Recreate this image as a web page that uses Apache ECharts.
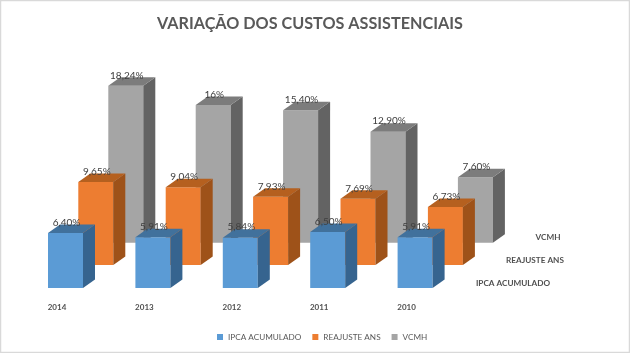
<!DOCTYPE html>
<html lang="en">
<head>
    <meta charset="UTF-8">
    <title>Variação dos custos assistenciais</title>
    <script src="https://cdn.jsdelivr.net/npm/echarts@6/dist/echarts.min.js"></script>
    <style>
        html, body { margin: 0; padding: 0; background: #fff; }
        #main { width: 630px; height: 353px; }
    </style>
</head>
<body>
    <div id="main"></div>
    <script>
        const years = ['2014', '2013', '2012', '2011', '2010']
        const ipca = [6.40, 5.91, 5.84, 6.50, 5.91]
        const reajuste = [9.65, 9.04, 7.93, 7.69, 6.73]
        const vcmh = [18.24, 16, 15.40, 12.90, 7.60]
        const ipcaLabels = ['6,40%', '5,91%', '5,84%', '6,50%', '5,91%']
        const reajusteLabels = ['9,65%', '9,04%', '7,93%', '7,69%', '6,73%']
        const vcmhLabels = ['18,24%', '16%', '15,40%', '12,90%', '7,60%']

        const FONT = 'Lato, "Open Sans", sans-serif'
        const barW = 35, depthX = 12, depthY = 8.5

        // each row sits further back in the fake 3d: shifted right and up
        function bar3d (labels, shiftX, shiftY, front, side, top) {
            return function (params, api) {
                const base = api.coord([api.value(0), 0])
                const head = api.coord([api.value(0), api.value(1)])
                const x = base[0] - barW / 2 + shiftX
                const y0 = base[1] - shiftY
                const y1 = head[1] - shiftY
                return {
                    type: 'group',
                    children: [
                        { type: 'rect', shape: { x: x, y: y1, width: barW, height: y0 - y1 }, style: { fill: front } },
                        { type: 'polygon', shape: { points: [[x + barW, y1], [x + barW + depthX, y1 - depthY], [x + barW + depthX, y0 - depthY], [x + barW, y0]] }, style: { fill: side } },
                        { type: 'polygon', shape: { points: [[x, y1], [x + depthX, y1 - depthY], [x + barW + depthX, y1 - depthY], [x + barW, y1]] }, style: { fill: top } },
                        { type: 'text', x: x + barW / 2 + 1, y: y1 - 10.5, style: { text: labels[params.dataIndex], font: '10px ' + FONT, fill: '#404040', align: 'center', verticalAlign: 'middle' } }
                    ]
                }
            }
        }

        function rowSeries (name, values, labels, shiftX, shiftY, front, side, top) {
            return {
                name: name,
                type: 'custom',
                data: values.map((v, i) => [i, v]),
                encode: { x: 0, y: 1 },
                itemStyle: { color: front },
                renderItem: bar3d(labels, shiftX, shiftY, front, side, top),
                silent: true
            }
        }

        const chart = echarts.init(document.getElementById('main'))
        chart.setOption({
            animation: false,
            backgroundColor: '#fff',
            title: {
                text: 'VARIAÇÃO DOS CUSTOS ASSISTENCIAIS',
                left: 152,
                top: 11,
                textStyle: { fontFamily: FONT, fontSize: 16.2, fontWeight: 'bold', color: '#595959' }
            },
            legend: {
                bottom: 7,
                left: 212,
                itemWidth: 6,
                itemHeight: 6,
                itemGap: 11,
                icon: 'rect',
                textStyle: { fontFamily: FONT, fontSize: 8.2, color: '#595959' },
                data: ['IPCA ACUMULADO', 'REAJUSTE ANS', 'VCMH']
            },
            grid: { left: 21.8, width: 437, top: 30, height: 258 },
            xAxis: {
                type: 'category',
                data: years,
                axisLine: { show: false },
                axisTick: { show: false },
                axisLabel: { fontFamily: FONT, fontSize: 8, fontWeight: 'bold', color: '#505050', margin: 15, padding: [0, 17, 0, 0] }
            },
            yAxis: { type: 'value', min: 0, max: 30, show: false },
            graphic: [
                { type: 'text', x: 548, y: 237, style: { text: 'VCMH', font: 'bold 8.2px ' + FONT, fill: '#505050', align: 'center', verticalAlign: 'middle' } },
                { type: 'text', x: 535, y: 260, style: { text: 'REAJUSTE ANS', font: 'bold 8.2px ' + FONT, fill: '#505050', align: 'center', verticalAlign: 'middle' } },
                { type: 'text', x: 513, y: 283, style: { text: 'IPCA ACUMULADO', font: 'bold 8.2px ' + FONT, fill: '#505050', align: 'center', verticalAlign: 'middle' } },
                { type: 'rect', shape: { x: 0.5, y: 0.5, width: 629, height: 352 }, style: { fill: 'none', stroke: '#d9d9d9', lineWidth: 1.5 } }
            ],
            // back rows first so the front row overlaps them
            series: [
                rowSeries('VCMH', vcmh, vcmhLabels, 60.3, 45.3, '#a5a5a5', '#636363', '#7c7c7c'),
                rowSeries('REAJUSTE ANS', reajuste, reajusteLabels, 30.3, 23, '#ed7d31', '#9e5219', '#b5601f'),
                rowSeries('IPCA ACUMULADO', ipca, ipcaLabels, 0, 0, '#5b9bd5', '#36648f', '#41719c')
            ]
        })
    </script>
</body>
</html>
